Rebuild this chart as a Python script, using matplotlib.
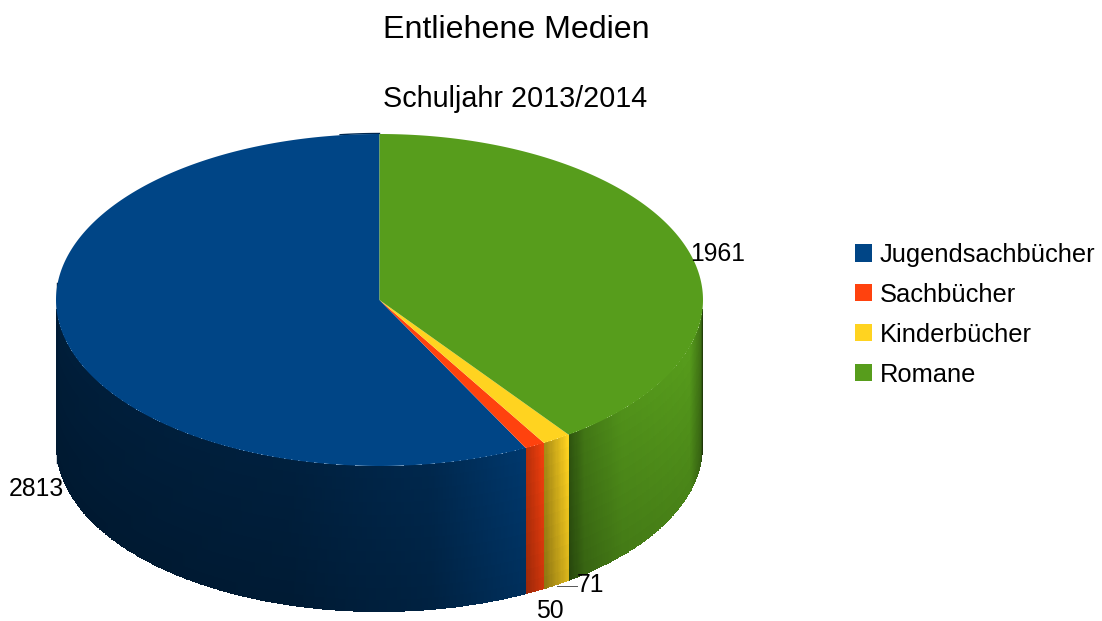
import numpy as np
import matplotlib
matplotlib.use('Agg')
import matplotlib.pyplot as plt
from matplotlib.patches import Patch

plt.rcParams['font.family'] = ['Liberation Sans', 'DejaVu Sans']

# Data
title = 'Entliehene Medien'
subtitle = 'Schuljahr 2013/2014'
categories = ['Jugendsachbücher', 'Sachbücher', 'Kinderbücher', 'Romane']
values = [2813, 50, 71, 1961]
colors = ['#004586', '#ff420e', '#ffd320', '#579d1c']

# Pie geometry, in pixels of the figure
cx, cy = 379.5, 300
rx, ry = 323.5, 166
depth = 146

# Brightness of the side wall along each slice (position 0..1 going from the
# left end of the visible wall to the right end of it)
side_shades = [
  ([0, 0.5, 0.8, 1], [0.41, 0.44, 0.55, 0.78]),
  ([0, 1], [0.68, 0.92]),
  ([0, 1], [0.62, 0.97]),
  ([0, 0.12, 0.4, 0.9, 0.985, 1], [0.5, 0.72, 0.88, 0.95, 0.7, 0.3]),
]

fig = plt.figure(figsize=(11.02, 6.21), dpi=100)
ax = fig.add_axes([0, 0, 1, 1])

# Angles run clockwise from 12 o'clock in screen terms; slices go anticlockwise
fractions = np.array(values) / sum(values)
ends = 360 - np.cumsum(fractions) * 360
starts = np.concatenate(([360], ends[:-1]))


def ellipse_xy(deg):
  rad = np.radians(deg)
  return cx + rx * np.sin(rad), cy - ry * np.cos(rad)


# Side walls first, only the part facing the viewer (90..270 degrees)
for start, end, color, shade in zip(starts, ends, colors, side_shades):
  hi = min(start, 270)
  lo = max(end, 90)
  if hi <= lo:
    continue
  theta = np.linspace(hi, lo, max(int((hi - lo) * 4), 2) + 1)
  x_edge, y_edge = ellipse_xy(theta)
  v_steps = np.linspace(0, 1, 13)
  X = np.tile(x_edge, (len(v_steps), 1))
  Y = np.array([y_edge + depth * v for v in v_steps])
  # brightness follows screen x inside the slice, and fades towards the bottom
  x_mid = (x_edge[:-1] + x_edge[1:]) / 2
  pos = (x_mid - x_edge.min()) / (x_edge.max() - x_edge.min())
  s = np.interp(pos, shade[0], shade[1])
  v_mid = (v_steps[:-1] + v_steps[1:]) / 2
  fade = 1.05 - 0.17 * v_mid
  bright = np.outer(fade, s)
  rgb = np.clip(np.array(matplotlib.colors.to_rgb(color))[None, None, :] * bright[:, :, None], 0, 1)
  ax.pcolormesh(X, Y, rgb, shading='flat', antialiased=False, linewidth=0)

# Dark rims of the back wall that peek out past the top face
ax.plot([cx - rx + 0.5, cx - rx + 0.5], [cy - 17, cy + depth + 17], color='#001a33', linewidth=1, zorder=2)
back_x, back_y = ellipse_xy(np.linspace(353, 360, 20))
ax.plot(back_x, back_y - 0.5, color='#00264d', linewidth=1, zorder=2)

# Top face
for start, end, color in zip(starts, ends, colors):
  theta = np.linspace(start, end, 300)
  x_edge, y_edge = ellipse_xy(theta)
  ax.fill(np.concatenate(([cx], x_edge)), np.concatenate(([cy], y_edge)),
          color=color, linewidth=0, zorder=3)

# Value labels
ax.text(690, 254, str(values[3]), fontsize=17.8, ha='left', va='center', zorder=5)
ax.text(9, 489, str(values[0]), fontsize=17.8, ha='left', va='center', zorder=5)
ax.text(577, 585, str(values[2]), fontsize=17.8, ha='left', va='center', zorder=5)
ax.text(536, 611, str(values[1]), fontsize=17.8, ha='left', va='center', zorder=5)
ax.plot([557, 577], [586, 586], color='#555555', linewidth=0.7, zorder=4)

# Titles
ax.text(516, 30, title, fontsize=23.1, ha='center', va='center')
ax.text(515, 99, subtitle, fontsize=20.7, ha='center', va='center')

# Legend
handles = [Patch(facecolor=c, edgecolor='none', label=n) for c, n in zip(colors, categories)]
ax.legend(handles=handles, loc='upper left', bbox_to_anchor=(855, 243),
          bbox_transform=ax.transData, frameon=False, fontsize=18.4,
          handlelength=0.65, handleheight=0.65, handletextpad=0.32,
          labelspacing=0.62, borderpad=0, borderaxespad=0)

ax.set_xlim(0, 1102)
ax.set_ylim(621, 0)
ax.axis('off')

fig.savefig('out.png', dpi=100)
